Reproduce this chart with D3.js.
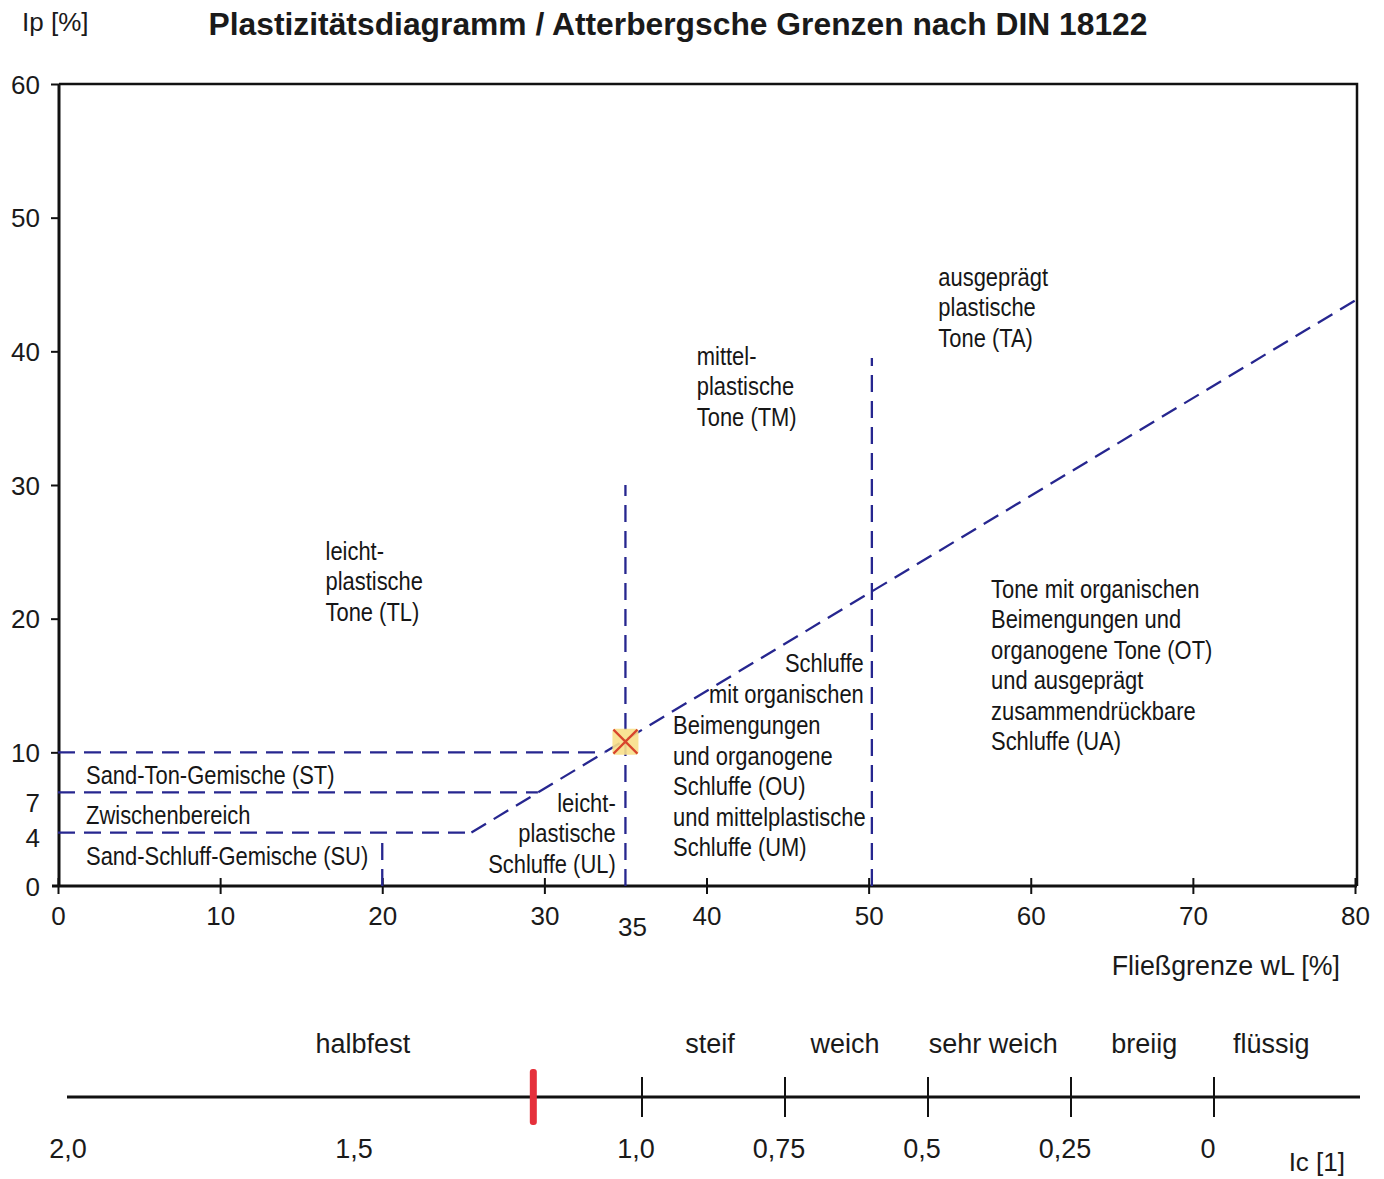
<!DOCTYPE html>
<html lang="de">
<head>
    <meta charset="UTF-8">
    <title>Plastizitätsdiagramm</title>
    <script src="https://d3js.org/d3.v7.min.js"></script>
    <style>
        body { margin: 0; background: #fff; }
        svg { display: block; }
        .lbl { font-family: "Liberation Sans", Arial, sans-serif; fill: #1a1a1a; }
        .zone { font-family: "Liberation Sans", Arial, sans-serif; font-size: 25.5px; fill: #161616; }
    </style>
</head>
<body>
<svg id="chart"></svg>
<script>
    // y-Achse (Ip) und x-Achse (wL)
    const yTicks = [0, 4, 7, 10, 20, 30, 40, 50, 60];
    const xTicks = [0, 10, 20, 30, 40, 50, 60, 70, 80];

    // Grenzlinien [wL, Ip]
    const aLine = [[25.5, 4], [80, 43.8]];
    const boundaries = [
        [[0, 10], [33.7, 10]],
        [[0, 7], [29.6, 7]],
        [[0, 4], [25.5, 4]],
        [[20, 0], [20, 3.4]],
        [[35, 0], [35, 30]],
        [[50.2, 0], [50.2, 39.5]]
    ];

    // Messpunkt
    const sample = { wL: 35, Ip: 10.8, Ic: 1.19 };

    // Bereichsbeschriftungen: [wL, Ip der ersten Zeile, Ausrichtung, Zeilen]
    const zones = [
        [16.5, 24.4, "start", ["leicht-", "plastische", "Tone (TL)"]],
        [39.4, 39.0, "start", ["mittel-", "plastische", "Tone (TM)"]],
        [54.3, 44.9, "start", ["ausgeprägt", "plastische", "Tone (TA)"]],
        [57.55, 21.55, "start", ["Tone mit organischen", "Beimengungen und", "organogene Tone (OT)", "und ausgeprägt", "zusammendrückbare", "Schluffe (UA)"]],
        [49.7, 16.0, "end", ["Schluffe", "mit organischen"]],
        [37.94, 11.37, "start", ["Beimengungen", "und organogene", "Schluffe (OU)", "und mittelplastische", "Schluffe (UM)"]],
        [34.4, 5.54, "end", ["leicht-", "plastische", "Schluffe (UL)"]],
        [1.73, 7.63, "start", ["Sand-Ton-Gemische (ST)"]],
        [1.73, 4.64, "start", ["Zwischenbereich"]],
        [1.73, 1.57, "start", ["Sand-Schluff-Gemische (SU)"]]
    ];

    // Konsistenzzahl Ic
    const icTicks = [1.0, 0.75, 0.5, 0.25, 0];
    const icLabels = [[2.0, "2,0"], [1.5, "1,5"], [1.0, "1,0"], [0.75, "0,75"], [0.5, "0,5"], [0.25, "0,25"], [0, "0"]];
    const icStates = [[1.488, "halbfest"], [0.881, "steif"], [0.645, "weich"], [0.386, "sehr weich"], [0.122, "breiig"], [-0.1, "flüssig"]];

    const W = 1384, H = 1179;
    const svg = d3.select("#chart").attr("width", W).attr("height", H);

    const x = d3.scaleLinear().domain([0, 80]).range([58, 1355]);
    const y = d3.scaleLinear().domain([0, 60]).range([886, 84]);
    const ic = d3.scaleLinear().domain([2, 0]).range([70, 1214]);

    const navy = "#26268f";

    // Titel
    svg.append("text").attr("class", "lbl")
        .attr("x", 678).attr("y", 35)
        .attr("text-anchor", "middle")
        .style("font-size", "31.8px").style("font-weight", "bold")
        .text("Plastizitätsdiagramm / Atterbergsche Grenzen nach DIN 18122");

    svg.append("text").attr("class", "lbl")
        .attr("x", 22).attr("y", 31).style("font-size", "26px")
        .text("Ip [%]");

    // Rahmen
    svg.append("path")
        .attr("d", `M${x(0) + 1},${y(60)} H${x(80) + 2} V${y(0)}`)
        .attr("fill", "none").attr("stroke", "#111").attr("stroke-width", 2.5);

    // Achsen
    const gx = svg.append("g").attr("transform", `translate(0,${y(0)})`)
        .call(d3.axisBottom(x).tickValues(xTicks).tickSize(8).tickPadding(13));
    gx.select(".domain").remove();
    gx.append("line").attr("x1", 52).attr("x2", x(80) + 2)
        .attr("stroke", "#111").attr("stroke-width", 3);
    gx.selectAll(".tick line").attr("y1", -8).attr("stroke", "#111").attr("stroke-width", 2);
    gx.selectAll(".tick text").attr("class", "lbl").style("font-size", "26px").attr("fill", "#1a1a1a");

    gx.append("text").attr("class", "lbl")
        .attr("x", x(35) + 7).attr("y", 50)
        .attr("text-anchor", "middle").style("font-size", "26px")
        .text("35");

    const gy = svg.append("g").attr("transform", `translate(${x(0) + 1},0)`)
        .call(d3.axisLeft(y).tickValues(yTicks).tickSize(8).tickPadding(11));
    gy.select(".domain").attr("stroke", "#111").attr("stroke-width", 3)
        .attr("d", `M0,${y(60)}V${y(0)}`);
    gy.selectAll(".tick line").attr("stroke", "#111").attr("stroke-width", 2)
        .attr("opacity", d => (d === 4 || d === 7 || d === 0) ? 0 : 1);
    gy.selectAll(".tick text").attr("class", "lbl").style("font-size", "26px").attr("fill", "#1a1a1a")
        .attr("dy", d => d === 7 ? "0.75em" : d === 4 ? "0.55em" : "0.35em");

    svg.append("text").attr("class", "lbl")
        .attr("x", 1340).attr("y", 975).attr("text-anchor", "end")
        .style("font-size", "26.8px").text("Fließgrenze wL [%]");

    // Grenzlinien
    const line = d3.line().x(d => x(d[0])).y(d => y(d[1]));
    svg.selectAll(".bound").data(boundaries.concat([aLine])).enter()
        .append("path").attr("class", "bound")
        .attr("d", line)
        .attr("fill", "none").attr("stroke", navy)
        .attr("stroke-width", 2.3).attr("stroke-dasharray", "17 9");

    // Beschriftungen (schmale Schrift, horizontal gestaucht)
    zones.forEach(([wx, iy, anchor, lines]) => {
        const t = svg.append("g")
            .attr("transform", `translate(${x(wx)},${y(iy)}) scale(0.86,1)`)
            .append("text").attr("class", "zone")
            .attr("text-anchor", anchor);
        lines.forEach((s, i) => {
            t.append("tspan").attr("x", 0).attr("y", i * 30.5).text(s);
        });
    });

    // Messpunkt
    const px = x(sample.wL), py = y(sample.Ip);
    svg.append("rect")
        .attr("x", px - 13).attr("y", py - 13)
        .attr("width", 26).attr("height", 26).attr("rx", 3)
        .attr("fill", "#f8df8a").attr("opacity", 0.9);
    svg.append("path")
        .attr("d", `M${px - 12},${py - 12}L${px + 12},${py + 12}M${px + 12},${py - 12}L${px - 12},${py + 12}`)
        .attr("stroke", "#d8442c").attr("stroke-width", 2.2);

    // Ic-Skala
    const icY = 1097;
    svg.append("line").attr("x1", 67).attr("x2", 1360)
        .attr("y1", icY).attr("y2", icY)
        .attr("stroke", "#111").attr("stroke-width", 3);
    svg.selectAll(".ictick").data(icTicks).enter()
        .append("line")
        .attr("x1", d => ic(d)).attr("x2", d => ic(d))
        .attr("y1", icY - 20).attr("y2", icY + 20)
        .attr("stroke", "#111").attr("stroke-width", 2);
    svg.selectAll(".iclabel").data(icLabels).enter()
        .append("text").attr("class", "lbl")
        .attr("x", d => ic(d[0]) - (d[0] > 1 ? 2 : 6)).attr("y", 1158)
        .attr("text-anchor", "middle").style("font-size", "27px")
        .text(d => d[1]);
    svg.selectAll(".icstate").data(icStates).enter()
        .append("text").attr("class", "lbl")
        .attr("x", d => ic(d[0])).attr("y", 1053)
        .attr("text-anchor", "middle").style("font-size", "27px")
        .text(d => d[1]);
    svg.append("rect")
        .attr("x", ic(sample.Ic) - 3.5).attr("y", icY - 28)
        .attr("width", 7).attr("height", 56).attr("rx", 3)
        .attr("fill", "#e5303b");

    svg.append("text").attr("class", "lbl")
        .attr("x", 1345).attr("y", 1171).attr("text-anchor", "end")
        .style("font-size", "26px").text("Ic [1]");
</script>
</body>
</html>
